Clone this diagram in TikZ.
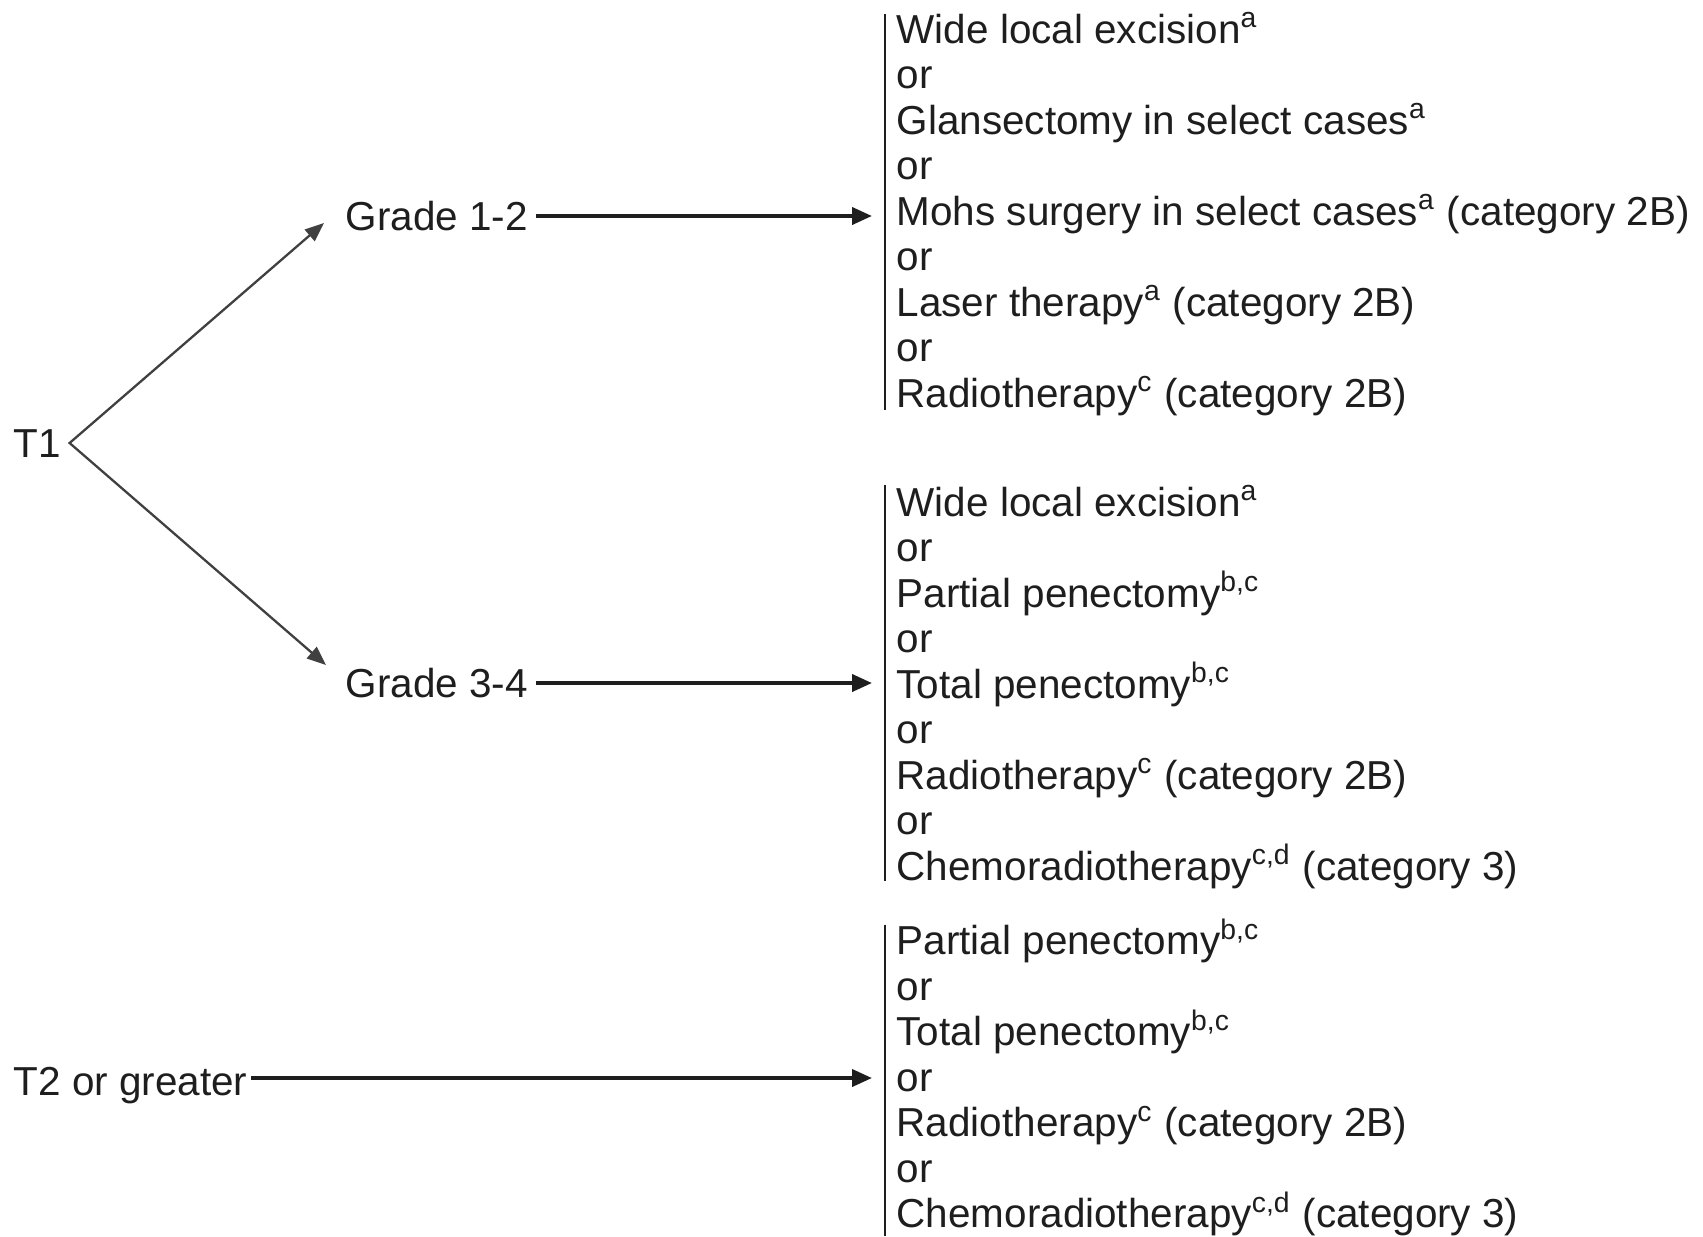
\documentclass[tikz,border=0pt]{standalone}
\usepackage{fontspec}
\setmainfont{Liberation Sans}
\usetikzlibrary{arrows.meta,calc}
\definecolor{ink}{HTML}{1E1E1E}
\begin{document}
\begin{tikzpicture}[x=0.01cm,y=-0.01cm,
  lbl/.style={anchor=base west,inner sep=0pt,text=ink,font=\fontsize{11.5}{13}\selectfont},
  arr/.style={draw=ink,line width=1.1pt,-{Triangle[length=0.2cm,width=0.17cm]}},
  diag/.style={draw=black!75,line width=0.65pt},
  bar/.style={draw=ink,line width=0.8pt}]
\useasboundingbox[fill=white] (0,0) rectangle (1703,1236);

% stage and grade labels
\node[lbl] (t1)  at (13,457)  {T1};
\node[lbl] (g12) at (345,230) {Grade 1-2};
\node[lbl] (g34) at (345,697) {Grade 3-4};
\node[lbl] (t2)  at (13,1095) {T2 or greater};

% treatment options, T1 grade 1-2
\foreach \txt [count=\i] in {
  {Wide local excision\textsuperscript{a}},
  {or},
  {Glansectomy in select cases\textsuperscript{a}},
  {or},
  {Mohs surgery in select cases\textsuperscript{a} (category 2B)},
  {or},
  {Laser therapy\textsuperscript{a} (category 2B)},
  {or},
  {Radiotherapy\textsuperscript{c} (category 2B)}}
  \node[lbl] (a\i) at (896,{43+(\i-1)*45.5}) {\txt};

% treatment options, T1 grade 3-4
\foreach \txt [count=\i] in {
  {Wide local excision\textsuperscript{a}},
  {or},
  {Partial penectomy\textsuperscript{b,c}},
  {or},
  {Total penectomy\textsuperscript{b,c}},
  {or},
  {Radiotherapy\textsuperscript{c} (category 2B)},
  {or},
  {Chemoradiotherapy\textsuperscript{c,d} (category 3)}}
  \node[lbl] (b\i) at (896,{516+(\i-1)*45.5}) {\txt};

% treatment options, T2 or greater
\foreach \txt [count=\i] in {
  {Partial penectomy\textsuperscript{b,c}},
  {or},
  {Total penectomy\textsuperscript{b,c}},
  {or},
  {Radiotherapy\textsuperscript{c} (category 2B)},
  {or},
  {Chemoradiotherapy\textsuperscript{c,d} (category 3)}}
  \node[lbl] (c\i) at (896,{954.5+(\i-1)*45.5}) {\txt};

% brackets in front of each option list
\draw[bar] ($(a1.base west)+(-11,-29)$) -- ($(a9.base west)+(-11,3)$);
\draw[bar] ($(b1.base west)+(-11,-31)$) -- ($(b9.base west)+(-11,1)$);
\draw[bar] ($(c1.base west)+(-11,-30)$) -- ($(c7.base west)+(-11,8)$);

% T1 splits into the two grades
\coordinate (split) at ($(t1.base east)+(8,-14)$);
\draw[diag,{Triangle[length=0.19cm,width=0.15cm]}-{Triangle[length=0.19cm,width=0.15cm]}]
  ($(g12.base west)+(-21,-7)$) -- (split) -- ($(g34.base west)+(-19,-32)$);

% arrows to the option lists
\draw[arr] ($(g12.base east)+(8,-14)$) -- ($(g12.base east -| a5.base west)+(-24,-14)$);
\draw[arr] ($(g34.base east)+(8,-14)$) -- ($(g34.base east -| b5.base west)+(-24,-14)$);
\draw[arr] ($(t2.base east)+(3,-17)$) -- ($(t2.base east -| c4.base west)+(-24,-17)$);
\end{tikzpicture}
\end{document}
